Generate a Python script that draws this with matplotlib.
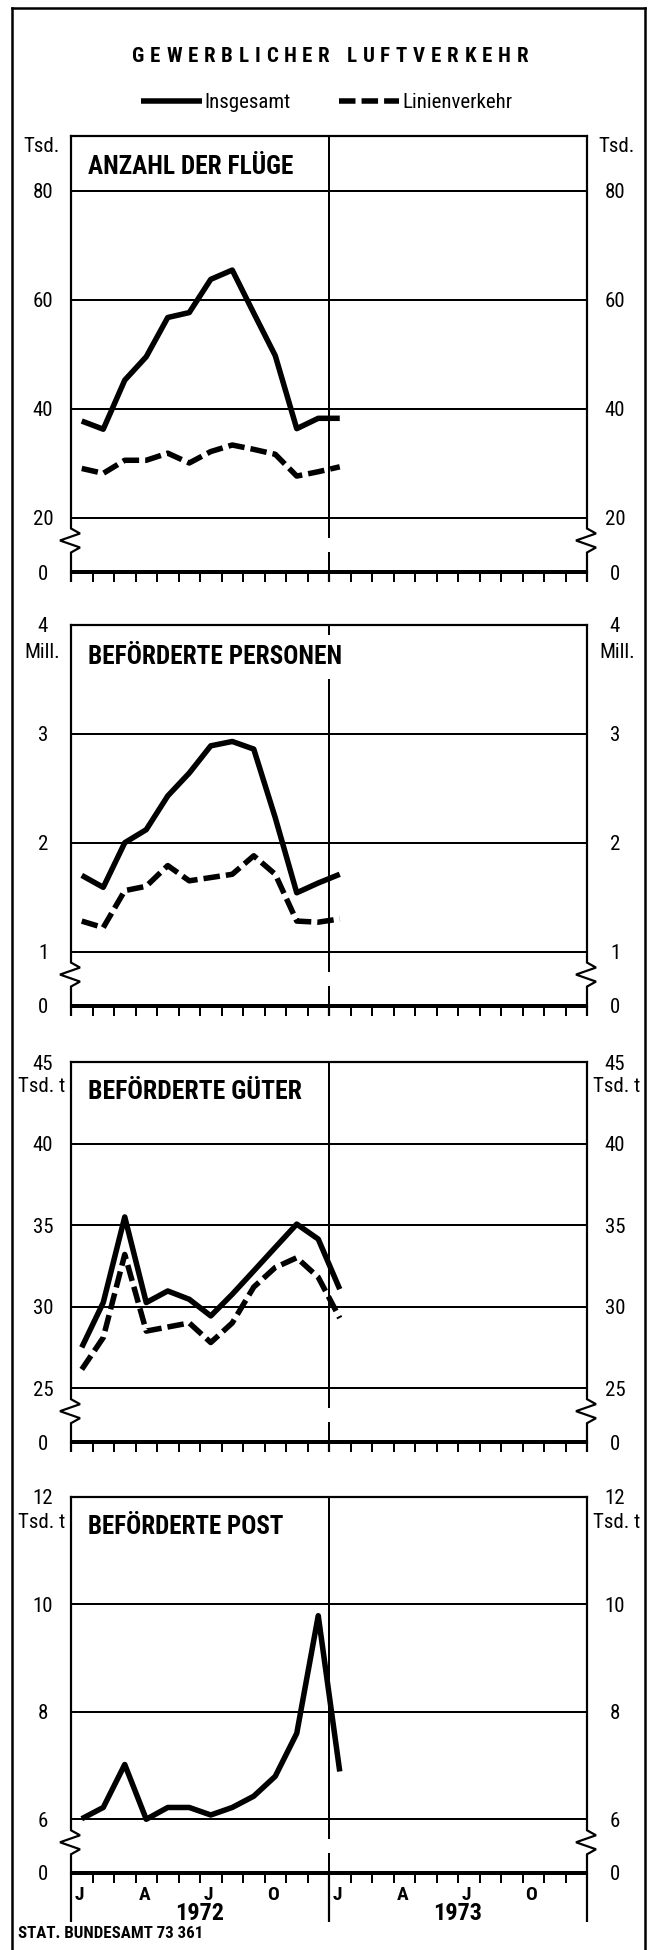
import matplotlib
matplotlib.use("Agg")
import matplotlib.pyplot as plt
from matplotlib import font_manager
from matplotlib.font_manager import FontProperties
from matplotlib.lines import Line2D
from matplotlib.transforms import offset_copy
import numpy as np

# ---------------- data (Jan 1972 .. Jan 1973) ----------------
month_index = np.arange(13)

flights_total = [37.7, 36.2, 45.2, 49.5, 56.7, 57.6, 63.7, 65.4, 57.5, 49.7, 36.3, 38.2, 38.2]
flights_sched = [29.0, 28.1, 30.5, 30.5, 31.8, 30.0, 32.1, 33.3, 32.5, 31.6, 27.6, 28.4, 29.3]

passengers_total = [1.70, 1.59, 2.00, 2.12, 2.43, 2.64, 2.89, 2.93, 2.86, 2.23, 1.54, 1.63, 1.71]
passengers_sched = [1.28, 1.22, 1.56, 1.60, 1.79, 1.65, 1.68, 1.71, 1.88, 1.71, 1.28, 1.27, 1.30]

goods_total = [27.5, 30.25, 35.5, 30.25, 30.96, 30.45, 29.43, 30.76, 32.19, 33.63, 35.06, 34.14, 31.07]
goods_sched = [26.15, 28.1, 33.2, 28.5, 28.75, 29.0, 27.8, 29.0, 31.2, 32.4, 33.0, 31.8, 29.3]

mail_total = [6.01, 6.22, 7.02, 6.0, 6.22, 6.22, 6.08, 6.22, 6.43, 6.80, 7.60, 9.79, 6.89]

series_labels = ["Insgesamt", "Linienverkehr"]
panel_titles = ["ANZAHL DER FLÜGE", "BEFÖRDERTE PERSONEN", "BEFÖRDERTE GÜTER", "BEFÖRDERTE POST"]
units = ["Tsd.", "Mill.", "Tsd. t", "Tsd. t"]
gridvals = [[20, 40, 60, 80], [1, 2, 3], [25, 30, 35, 40], [6, 8, 10]]
top_values = [90, 4, 45, 12]
top_labels = [None, "4", "45", "12"]
break_values = [10, 0.5, 21.7, 5]     # where the "0" of the broken axis sits

month_labels = ["J", "A", "J", "O", "J", "A", "J", "O"]
month_label_pos = [0, 3, 6, 9, 12, 15, 18, 21]
year_labels = ["1972", "1973"]
year_label_pos = [6, 18]

title = "GEWERBLICHER LUFTVERKEHR"
footer = "STAT. BUNDESAMT 73 361"

# ---------------- fonts: look for an installed condensed sans ----------------
COND = {"condensed", "semi-condensed", "extra-condensed", "ultra-condensed"}
found = {}
for f in font_manager.fontManager.ttflist:
    st = str(f.stretch)
    if st in COND or "Narrow" in f.name or "Condensed" in f.name:
        found.setdefault(f.name, []).append(st)
prefs = ["Liberation Sans Narrow", "Roboto Condensed", "DejaVu Sans", "Noto Sans",
         "Open Sans", "Arial Narrow", "Noto Sans Condensed", "Open Sans Condensed"]
NARROW, STRETCH = None, "normal"
for p in prefs:
    if p in found:
        NARROW = p
        sts = [s for s in found[p] if s in COND]
        STRETCH = "condensed" if "condensed" in sts else (sts[0] if sts else "normal")
        break
if NARROW is None and found:
    NARROW = sorted(found)[0]
    sts = [s for s in found[NARROW] if s in COND]
    STRETCH = sts[0] if sts else "normal"
if NARROW is None:
    NARROW = "Liberation Sans"
plt.rcParams["font.family"] = [NARROW, "DejaVu Sans"]
plt.rcParams["font.stretch"] = STRETCH

W_PX, H_PX = 656, 1950
DPI = 100
fig = plt.figure(figsize=(W_PX / DPI, H_PX / DPI), dpi=DPI)

def pt(px):
    return px * 72.0 / DPI

AX_L, AX_R = 71, 587
panel_px = [(136, 572), (625, 1006), (1062, 1442), (1497, 1873)]
unit_dy = [10, 28, 25, 25]
title_dy = [31, 32, 30, 30]
title_width_px = [205, 255, 215, 196]

LW_DATA = pt(5.5)
DASH = (3.0, 1.1)
LW_GRID = pt(2.0)
TICK_FS = 15

def fmt(v):
    return str(int(v)) if float(v).is_integer() else str(v)

fit_items = []   # (text artist, target width px, nominal size)

panel_series = [
    [flights_total, flights_sched],
    [passengers_total, passengers_sched],
    [goods_total, goods_sched],
    [mail_total],
]

legend_handles = None
axes = []
for i in range(4):
    top_px, bot_px = panel_px[i]
    ax = fig.add_axes([AX_L / W_PX, 1 - bot_px / H_PX, (AX_R - AX_L) / W_PX, (bot_px - top_px) / H_PX])
    axes.append(ax)
    y0, y1 = break_values[i], top_values[i]
    ax.set_xlim(0, 24)
    ax.set_ylim(y0, y1)
    ax.patch.set_visible(False)
    sy = (bot_px - top_px) / (y1 - y0)   # px per data unit
    sx = (AX_R - AX_L) / 24.0

    for s in ("left", "right"):
        ax.spines[s].set_visible(False)
    ax.spines["top"].set_linewidth(pt(2.2))
    ax.spines["bottom"].set_linewidth(pt(4))
    ax.spines["bottom"].set_capstyle("butt")

    for g in gridvals[i]:
        ax.axhline(g, color="k", lw=LW_GRID, zorder=1)

    # edges with zig-zag break
    glow = min(gridvals[i])
    ztop = glow - 11 / sy
    zdx = np.array([0, 9, -11, 9, 0])
    zdy = np.array([0, 5, 12, 19, 24])
    for ex in (0, 24):
        xs = [ex, ex] + list(ex + zdx / sx) + [ex, ex]
        ys = [y1, ztop] + list(ztop - zdy / sy) + [ztop - 24 / sy, y0]
        ax.plot(xs, ys, color="k", lw=pt(2.2), clip_on=False, zorder=3,
                solid_joinstyle="miter")

    # middle (year boundary) line with break gap
    ax.plot([12, 12], [y1, glow - 19 / sy], color="k", lw=pt(2), zorder=1)
    ax.plot([12, 12], [y0 + 19 / sy, y0], color="k", lw=pt(2), zorder=1)

    # y ticks both sides
    ticks = [y0] + gridvals[i] + ([y1] if top_labels[i] else [])
    labels = ["0"] + [fmt(g) for g in gridvals[i]] + ([top_labels[i]] if top_labels[i] else [])
    ax.set_yticks(ticks)
    ax.set_yticklabels(labels)
    ax.tick_params(axis="y", length=0, pad=pt(28), labelleft=True, labelright=True,
                   labelsize=TICK_FS)
    for t in ax.yaxis.get_major_ticks():
        t.label1.set_ha("center")
        t.label2.set_ha("center")

    # x ticks (month boundaries)
    ax.set_xticks([0, 12, 24])
    ax.set_xticks([m for m in range(1, 24) if m != 12], minor=True)
    major_len = 49 if i == 3 else 10
    ax.tick_params(axis="x", which="major", direction="out", length=pt(major_len), width=pt(2.2),
                   labelbottom=False)
    ax.tick_params(axis="x", which="minor", direction="out", length=pt(10), width=pt(2.0))

    # units
    ax.text(0, 1, units[i], transform=offset_copy(ax.transAxes, fig=fig, x=-29, y=-unit_dy[i], units="dots"),
            ha="center", va="center", fontsize=TICK_FS)
    ax.text(1, 1, units[i], transform=offset_copy(ax.transAxes, fig=fig, x=30, y=-unit_dy[i], units="dots"),
            ha="center", va="center", fontsize=TICK_FS)

    # panel title
    tt = ax.text(0, 1, panel_titles[i], transform=offset_copy(ax.transAxes, fig=fig, x=17, y=-title_dy[i], units="dots"),
                 ha="left", va="center", fontsize=17, fontweight="bold", zorder=4,
                 bbox=dict(facecolor="white", edgecolor="none", pad=7))
    fit_items.append((tt, title_width_px[i], 17))

    # data
    xs = month_index + 0.5
    handles = []
    for k, vals in enumerate(panel_series[i]):
        if k == 0:
            (ln,) = ax.plot(xs, vals, color="k", lw=LW_DATA, solid_capstyle="butt",
                            solid_joinstyle="round", zorder=5, clip_on=False)
        else:
            (ln,) = ax.plot(xs, vals, color="k", lw=LW_DATA, dashes=DASH, dash_capstyle="butt",
                            dash_joinstyle="round", zorder=5, clip_on=False)
        handles.append(ln)
    if i == 0:
        legend_handles = handles

# month / year labels under last panel
ax = axes[-1]
for lab, pos in zip(month_labels, month_label_pos):
    ax.text(pos + 0.5, 0, lab, transform=offset_copy(ax.get_xaxis_transform(), fig=fig, x=-2, y=-22, units="dots"),
            ha="center", va="center", fontsize=14, fontweight="bold")
for lab, pos in zip(year_labels, year_label_pos):
    ax.text(pos, 0, lab, transform=offset_copy(ax.get_xaxis_transform(), fig=fig, x=0, y=-41, units="dots"),
            ha="center", va="center", fontsize=17.5, fontweight="bold")

# legend, footer
fig.legend(legend_handles, series_labels, loc="center", bbox_to_anchor=(327 / W_PX, 1 - 103 / H_PX),
           ncol=2, frameon=False, handlelength=2.9, handletextpad=0.15, columnspacing=2.3, fontsize=15)
ft = fig.text(18 / W_PX, 1 - 1934 / H_PX, footer, ha="left", va="center", fontsize=12.5, fontweight="bold")
fit_items.append((ft, 186, 12.5))

fig.canvas.draw()
renderer = fig.canvas.get_renderer()

# fit the widths of the main labels to the reference (within limits)
for art, target, nominal in fit_items:
    w = art.get_window_extent(renderer).width
    if w > 0:
        size = nominal * target / w
        size = max(nominal * 0.8, min(nominal * 1.15, size))
        art.set_fontsize(size)

# letter-spaced title, placed character by character
TITLE_FP = FontProperties(family=[NARROW, "DejaVu Sans"], stretch=STRETCH, weight="bold", size=15)
TITLE_L, TITLE_R, TITLE_Y, WORD_GAP = 132, 528, 56, 17
widths = [renderer.get_text_width_height_descent(c, TITLE_FP, ismath=False)[0] if c != " " else 0.0
          for c in title]
n_letter_gaps = sum(1 for a, b in zip(title[:-1], title[1:]) if a != " " and b != " ")
spacing = (TITLE_R - TITLE_L - sum(widths) - WORD_GAP) / max(n_letter_gaps, 1)
xpos = TITLE_L
for idx, c in enumerate(title):
    if c == " ":
        xpos += WORD_GAP
        continue
    fig.text(xpos / W_PX, 1 - TITLE_Y / H_PX, c, ha="left", va="center", fontproperties=TITLE_FP)
    xpos += widths[idx]
    if idx + 1 < len(title) and title[idx + 1] != " ":
        xpos += spacing

# outer border (open at the bottom edge of the image)
bx0, bx1, by0 = 12, 645, 8
for xs_, ys_ in [([bx0, bx0], [by0, H_PX + 5]), ([bx0, bx1], [by0, by0]), ([bx1, bx1], [by0, H_PX + 5])]:
    fig.add_artist(Line2D([x / W_PX for x in xs_], [1 - y / H_PX for y in ys_], color="k", lw=pt(2.5),
                          transform=fig.transFigure, solid_capstyle="projecting"))

fig.savefig("out.png", dpi=DPI)
